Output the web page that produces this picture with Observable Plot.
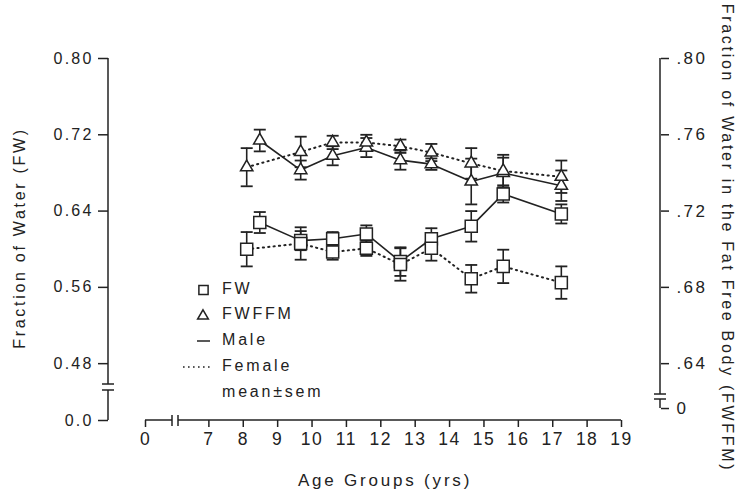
<!DOCTYPE html>
<html><head><meta charset="utf-8">
<script src="https://cdn.jsdelivr.net/npm/d3@7"></script>
<script src="https://cdn.jsdelivr.net/npm/@observablehq/plot@0.6"></script>
<style>
html,body{margin:0;padding:0;background:#fff;}
#chart{width:744px;height:492px;overflow:hidden;}
</style></head>
<body><div id="chart"></div>
<script>
// ---- data ----
const maleAge   = [8.48, 9.67, 10.6, 11.58, 12.57, 13.47, 14.63, 15.56, 17.25];
const femaleAge = [8.10, 9.67, 10.6, 11.58, 12.57, 13.47, 14.63, 15.56, 17.25];

const maleFW      = [0.628, 0.609, 0.611, 0.616, 0.587, 0.611, 0.624, 0.658, 0.637];
const maleFWsem   = [0.011, 0.010, 0.007, 0.009, 0.015, 0.011, 0.016, 0.009, 0.010];
const femaleFW    = [0.600, 0.606, 0.597, 0.601, 0.584, 0.601, 0.569, 0.582, 0.565];
const femaleFWsem = [0.018, 0.017, 0.008, 0.008, 0.017, 0.013, 0.0145, 0.0175, 0.017];

const maleFWFFM      = [0.757, 0.7415, 0.749, 0.7533, 0.7467, 0.7446, 0.7355, 0.740, 0.7333];
const maleFWFFMsem   = [0.0057, 0.005, 0.005, 0.005, 0.005, 0.003, 0.012, 0.008, 0.008];
const femaleFWFFM    = [0.743, 0.751, 0.756, 0.756, 0.754, 0.7507, 0.745, 0.741, 0.738];
const femaleFWFFMsem = [0.010, 0.008, 0.0035, 0.004, 0.0035, 0.0045, 0.008, 0.0085, 0.0085];

const ageTicks   = [0, 7, 8, 9, 10, 11, 12, 13, 14, 15, 16, 17, 18, 19];
const leftTicks  = [0, 0.48, 0.56, 0.64, 0.72, 0.80];
const rightTicks = [0.64, 0.68, 0.72, 0.76, 0.80];   // FWFFM units
const legendItems = ["FW", "FWFFM", "Male", "Female", "mean\u00b1sem"];

// FWFFM axis is drawn against the FW axis: .80 <-> 0.80, .64 <-> 0.48
const toLeft = v => 2 * v - 0.8;
const RIGHT_ZERO = 0.165;   // where the broken right axis puts its "0"

function build(ages, vals, sems, sex, measure, conv) {
  return ages.map((a, i) => ({
    age: a, sex, measure, key: sex + measure,
    v: conv(vals[i]), lo: conv(vals[i] - sems[i]), hi: conv(vals[i] + sems[i])
  }));
}
const id = v => v;
const rows = [
  ...build(maleAge, maleFW, maleFWsem, "Male", "FW", id),
  ...build(femaleAge, femaleFW, femaleFWsem, "Female", "FW", id),
  ...build(maleAge, maleFWFFM, maleFWFFMsem, "Male", "FWFFM", toLeft),
  ...build(femaleAge, femaleFWFFM, femaleFWFFMsem, "Female", "FWFFM", toLeft)
];

const INK = "#222";
const FONT = "'Liberation Sans', Arial, Helvetica, sans-serif";
const capSymbol = {draw(ctx) { ctx.moveTo(-6, 0); ctx.lineTo(6, 0); }};

const plot = Plot.plot({
  width: 744, height: 492,
  marginLeft: 108, marginRight: 84, marginTop: 58, marginBottom: 72,
  style: {fontFamily: FONT, fontSize: "15px", color: INK, background: "white"},
  x: {type: "linear", domain: [0, 6, 19], range: [145, 174, 621]},
  y: {type: "linear", domain: [0, 0.455, 0.80], range: [420, 387, 58]},
  marks: [
    Plot.axisY({ticks: leftTicks, anchor: "left", tickSize: 10, tickPadding: 5, strokeWidth: 1.5,
      tickFormat: d => d === 0 ? "0.0" : d.toFixed(2), label: null}),
    Plot.axisY({ticks: [...rightTicks.map(toLeft), RIGHT_ZERO], anchor: "right", tickSize: 8, tickPadding: 8, strokeWidth: 1.5,
      tickFormat: d => d < 0.3 ? "0" : "." + Math.round((d + 0.8) / 2 * 100), label: null}),
    Plot.axisX({ticks: ageTicks, anchor: "bottom", tickSize: 7, tickPadding: 5, strokeWidth: 1.5,
      tickFormat: d => String(d), label: null}),
    Plot.line(rows.filter(d => d.sex === "Male"), {x: "age", y: "v", z: "key", stroke: INK, strokeWidth: 1.6}),
    Plot.line(rows.filter(d => d.sex === "Female"), {x: "age", y: "v", z: "key", stroke: INK, strokeWidth: 2, strokeDasharray: "1.2,4.2"}),
    Plot.ruleX(rows, {x: "age", y1: "lo", y2: "hi", stroke: INK, strokeWidth: 1.6}),
    Plot.dot(rows, {x: "age", y: "lo", symbol: capSymbol, r: 6, stroke: INK, strokeWidth: 1.8}),
    Plot.dot(rows, {x: "age", y: "hi", symbol: capSymbol, r: 6, stroke: INK, strokeWidth: 1.8}),
    Plot.dot(rows.filter(d => d.measure === "FW"), {x: "age", y: "v", symbol: "square", r: 6.8, fill: "white", stroke: INK, strokeWidth: 1.5}),
    Plot.dot(rows.filter(d => d.measure === "FWFFM"), {x: "age", y: "v", symbol: "triangle", r: 4.6, fill: "white", stroke: INK, strokeWidth: 1.5})
  ]
});

const svg = d3.select(plot);
const xs = plot.scale("x"), ys = plot.scale("y");
svg.selectAll('g[aria-label="y-axis tick label"]').each(function() {
  const sel = d3.select(this);
  const isLeft = sel.attr("text-anchor") === "end";
  sel.selectAll("text").style("font-size", isLeft ? "16px" : "17px").style("letter-spacing", isLeft ? "2.2px" : "2.4px");
});
svg.selectAll('g[aria-label="x-axis tick label"] text').style("font-size", "17.5px").style("letter-spacing", "1.5px");

const g = svg.append("g").attr("stroke", INK).attr("stroke-width", 1.5).attr("fill", "none");
const seg = (x1, y1, x2, y2) => g.append("line").attr("x1", x1).attr("y1", y1).attr("x2", x2).attr("y2", y2);

// left broken axis
const LX = 108, yTop = ys.apply(0.80), yZero = ys.apply(0), yBrk = ys.apply(0.455);
seg(LX, yTop, LX, yBrk - 3); seg(LX, yBrk + 3, LX, yZero);
seg(LX - 6, yBrk - 3, LX + 6, yBrk - 3); seg(LX - 6, yBrk + 3, LX + 6, yBrk + 3);
// right broken axis
const RX = 660, yRZero = ys.apply(RIGHT_ZERO), yRBrk = ys.apply(0.317);
seg(RX, yTop, RX, yRBrk - 3); seg(RX, yRBrk + 2, RX, yRZero);
seg(RX - 6, yRBrk - 3, RX + 6, yRBrk - 3); seg(RX - 6, yRBrk + 2, RX + 6, yRBrk + 2);
// bottom broken axis
const AY = yZero, xBrk = xs.apply(6);
seg(xs.apply(0), AY, xBrk - 2, AY); seg(xBrk + 4, AY, xs.apply(19), AY);
seg(xBrk - 2, AY - 5, xBrk - 2, AY + 6); seg(xBrk + 4, AY - 5, xBrk + 4, AY + 6);

// axis titles
const T = svg.append("g").attr("fill", INK).style("font-family", FONT);
T.append("text").attr("transform", "translate(21,238) rotate(-90)").attr("text-anchor", "middle")
  .attr("dominant-baseline", "middle").style("font-size", "16px").style("letter-spacing", "2.7px")
  .text("Fraction of Water (FW)");
T.append("text").attr("transform", "translate(726,238) rotate(90)").attr("text-anchor", "middle")
  .attr("dominant-baseline", "middle").style("font-size", "16px").style("letter-spacing", "2.7px")
  .text("Fraction of Water in the Fat Free Body (FWFFM)");
T.append("text").attr("x", 385).attr("y", 486).attr("text-anchor", "middle")
  .style("font-size", "17px").style("letter-spacing", "2.8px").text("Age Groups (yrs)");

// legend
const L = svg.append("g").style("font-family", FONT);
const rowY = [290, 315, 341, 367, 393];
L.append("path").attr("transform", `translate(203.5,${rowY[0]})`).attr("d", d3.symbol(d3.symbolSquare, 85)())
  .attr("fill", "white").attr("stroke", INK).attr("stroke-width", 1.5);
L.append("path").attr("transform", `translate(203,${rowY[1] + 1})`).attr("d", d3.symbol(d3.symbolTriangle, 50)())
  .attr("fill", "white").attr("stroke", INK).attr("stroke-width", 1.5);
L.append("line").attr("x1", 197).attr("x2", 210).attr("y1", rowY[2]).attr("y2", rowY[2]).attr("stroke", INK).attr("stroke-width", 1.5);
L.append("line").attr("x1", 183).attr("x2", 210).attr("y1", rowY[3]).attr("y2", rowY[3]).attr("stroke", INK).attr("stroke-width", 1.6).attr("stroke-dasharray", "1.6,3.4");
legendItems.forEach((t, i) => {
  L.append("text").attr("x", 222).attr("y", rowY[i]).attr("dominant-baseline", "middle").attr("text-anchor", "start")
    .attr("fill", INK).style("font-size", "16px").style("letter-spacing", "2.8px").text(t);
});

document.getElementById("chart").appendChild(plot);
</script>
</body></html>
